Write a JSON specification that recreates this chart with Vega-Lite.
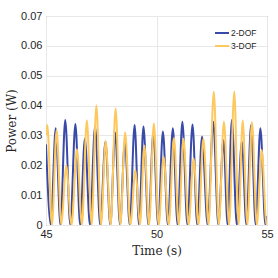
{
  "$schema": "https://vega.github.io/schema/vega-lite/v6.json",
  "autosize": "none",
  "width": 221,
  "height": 209,
  "padding": {"left": 46, "top": 16, "right": 11, "bottom": 53},
  "background": "white",
  "config": {
    "view": {"stroke": "#8f8f8f", "strokeWidth": 1},
    "axis": {
      "domain": false,
      "ticks": false,
      "grid": true,
      "gridColor": "#e8e8e8",
      "gridWidth": 1,
      "labelFont": "Liberation Sans",
      "labelFontSize": 11,
      "labelColor": "#262626",
      "titleFont": "DejaVu Serif",
      "titleFontSize": 12,
      "titleFontWeight": "normal",
      "titleColor": "#262626"
    }
  },
  "data": {
    "values": [
      {"t": 45.0, "p": 0.027, "s": "2-DOF"},
      {"t": 45.22, "p": 0, "s": "2-DOF"},
      {"t": 45.44, "p": 0.0324, "s": "2-DOF"},
      {"t": 45.655, "p": 0, "s": "2-DOF"},
      {"t": 45.87, "p": 0.0352, "s": "2-DOF"},
      {"t": 46.1, "p": 0, "s": "2-DOF"},
      {"t": 46.33, "p": 0.0338, "s": "2-DOF"},
      {"t": 46.545, "p": 0, "s": "2-DOF"},
      {"t": 46.76, "p": 0.029, "s": "2-DOF"},
      {"t": 46.99, "p": 0, "s": "2-DOF"},
      {"t": 47.22, "p": 0.033, "s": "2-DOF"},
      {"t": 47.455, "p": 0, "s": "2-DOF"},
      {"t": 47.69, "p": 0.028, "s": "2-DOF"},
      {"t": 47.91, "p": 0, "s": "2-DOF"},
      {"t": 48.13, "p": 0.031, "s": "2-DOF"},
      {"t": 48.35, "p": 0, "s": "2-DOF"},
      {"t": 48.57, "p": 0.028, "s": "2-DOF"},
      {"t": 48.79, "p": 0, "s": "2-DOF"},
      {"t": 49.01, "p": 0.0335, "s": "2-DOF"},
      {"t": 49.21, "p": 0, "s": "2-DOF"},
      {"t": 49.41, "p": 0.033, "s": "2-DOF"},
      {"t": 49.635, "p": 0, "s": "2-DOF"},
      {"t": 49.86, "p": 0.031, "s": "2-DOF"},
      {"t": 50.075, "p": 0, "s": "2-DOF"},
      {"t": 50.29, "p": 0.0313, "s": "2-DOF"},
      {"t": 50.515, "p": 0, "s": "2-DOF"},
      {"t": 50.74, "p": 0.0324, "s": "2-DOF"},
      {"t": 50.955, "p": 0, "s": "2-DOF"},
      {"t": 51.17, "p": 0.0346, "s": "2-DOF"},
      {"t": 51.4, "p": 0, "s": "2-DOF"},
      {"t": 51.63, "p": 0.0337, "s": "2-DOF"},
      {"t": 51.845, "p": 0, "s": "2-DOF"},
      {"t": 52.06, "p": 0.0296, "s": "2-DOF"},
      {"t": 52.315, "p": 0, "s": "2-DOF"},
      {"t": 52.57, "p": 0.0346, "s": "2-DOF"},
      {"t": 52.8, "p": 0, "s": "2-DOF"},
      {"t": 53.03, "p": 0.0285, "s": "2-DOF"},
      {"t": 53.22, "p": 0, "s": "2-DOF"},
      {"t": 53.41, "p": 0.0352, "s": "2-DOF"},
      {"t": 53.635, "p": 0, "s": "2-DOF"},
      {"t": 53.86, "p": 0.028, "s": "2-DOF"},
      {"t": 54.07, "p": 0, "s": "2-DOF"},
      {"t": 54.28, "p": 0.0335, "s": "2-DOF"},
      {"t": 54.49, "p": 0, "s": "2-DOF"},
      {"t": 54.7, "p": 0.0324, "s": "2-DOF"},
      {"t": 54.93, "p": 0, "s": "2-DOF"},
      {"t": 55.0, "p": 0.003, "s": "2-DOF"},
      {"t": 45.0, "p": 0.03, "s": "3-DOF"},
      {"t": 45.06, "p": 0.0335, "s": "3-DOF"},
      {"t": 45.27, "p": 0, "s": "3-DOF"},
      {"t": 45.48, "p": 0.0318, "s": "3-DOF"},
      {"t": 45.695, "p": 0, "s": "3-DOF"},
      {"t": 45.91, "p": 0.02, "s": "3-DOF"},
      {"t": 46.155, "p": 0, "s": "3-DOF"},
      {"t": 46.4, "p": 0.0254, "s": "3-DOF"},
      {"t": 46.625, "p": 0, "s": "3-DOF"},
      {"t": 46.85, "p": 0.035, "s": "3-DOF"},
      {"t": 47.065, "p": 0, "s": "3-DOF"},
      {"t": 47.28, "p": 0.04, "s": "3-DOF"},
      {"t": 47.49, "p": 0, "s": "3-DOF"},
      {"t": 47.7, "p": 0.0281, "s": "3-DOF"},
      {"t": 47.925, "p": 0, "s": "3-DOF"},
      {"t": 48.15, "p": 0.039, "s": "3-DOF"},
      {"t": 48.365, "p": 0, "s": "3-DOF"},
      {"t": 48.58, "p": 0.031, "s": "3-DOF"},
      {"t": 48.815, "p": 0, "s": "3-DOF"},
      {"t": 49.05, "p": 0.0184, "s": "3-DOF"},
      {"t": 49.25, "p": 0, "s": "3-DOF"},
      {"t": 49.45, "p": 0.0266, "s": "3-DOF"},
      {"t": 49.665, "p": 0, "s": "3-DOF"},
      {"t": 49.88, "p": 0.034, "s": "3-DOF"},
      {"t": 50.1, "p": 0, "s": "3-DOF"},
      {"t": 50.32, "p": 0.0229, "s": "3-DOF"},
      {"t": 50.555, "p": 0, "s": "3-DOF"},
      {"t": 50.79, "p": 0.0292, "s": "3-DOF"},
      {"t": 51.005, "p": 0, "s": "3-DOF"},
      {"t": 51.22, "p": 0.029, "s": "3-DOF"},
      {"t": 51.45, "p": 0, "s": "3-DOF"},
      {"t": 51.68, "p": 0.0223, "s": "3-DOF"},
      {"t": 51.9, "p": 0, "s": "3-DOF"},
      {"t": 52.12, "p": 0.029, "s": "3-DOF"},
      {"t": 52.355, "p": 0, "s": "3-DOF"},
      {"t": 52.59, "p": 0.0446, "s": "3-DOF"},
      {"t": 52.82, "p": 0, "s": "3-DOF"},
      {"t": 53.05, "p": 0.0346, "s": "3-DOF"},
      {"t": 53.285, "p": 0, "s": "3-DOF"},
      {"t": 53.52, "p": 0.0446, "s": "3-DOF"},
      {"t": 53.71, "p": 0, "s": "3-DOF"},
      {"t": 53.9, "p": 0.035, "s": "3-DOF"},
      {"t": 54.11, "p": 0, "s": "3-DOF"},
      {"t": 54.32, "p": 0.0344, "s": "3-DOF"},
      {"t": 54.54, "p": 0, "s": "3-DOF"},
      {"t": 54.76, "p": 0.0251, "s": "3-DOF"},
      {"t": 54.98, "p": 0, "s": "3-DOF"},
      {"t": 55.0, "p": 0, "s": "3-DOF"}
    ]
  },
  "mark": {"type": "line", "interpolate": "monotone", "strokeWidth": 2, "clip": true},
  "encoding": {
    "x": {
      "field": "t", "type": "quantitative",
      "scale": {"domain": [45, 55], "nice": false, "zero": false},
      "axis": {"values": [45, 50, 55], "title": "Time (s)", "labelPadding": 3, "titlePadding": 6, "labelFlush": false}
    },
    "y": {
      "field": "p", "type": "quantitative",
      "scale": {"domain": [0, 0.07], "nice": false},
      "axis": {"values": [0, 0.01, 0.02, 0.03, 0.04, 0.05, 0.06, 0.07], "labelExpr": "datum.value == 0 ? '0' : format(datum.value, '.2f')", "title": "Power (W)", "labelPadding": 4, "titlePadding": 2, "labelFlush": false}
    },
    "color": {
      "field": "s", "type": "nominal",
      "scale": {"domain": ["2-DOF", "3-DOF"], "range": ["#3a4aa8", "#fdc85e"]},
      "legend": {
        "title": null,
        "orient": "none",
        "legendX": 168,
        "legendY": 9,
        "padding": 0,
        "symbolType": "stroke",
        "symbolSize": 196,
        "symbolStrokeWidth": 2,
        "labelFont": "Liberation Sans",
        "labelFontSize": 8.5,
        "labelColor": "#262626",
        "labelOffset": 1,
        "rowPadding": -4
      }
    }
  }
}
